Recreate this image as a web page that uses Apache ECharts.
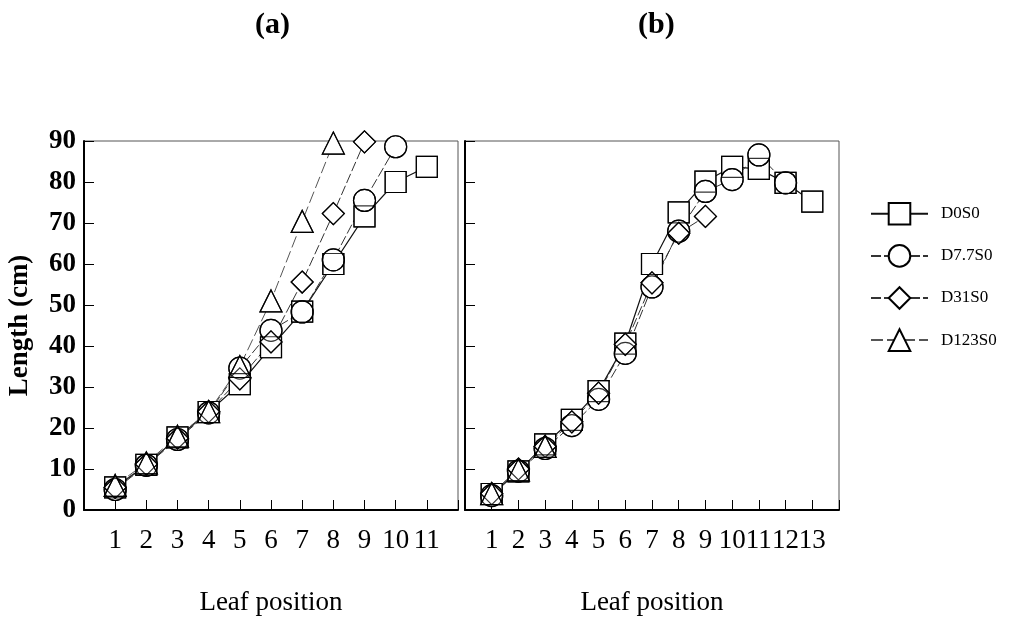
<!DOCTYPE html>
<html>
<head>
<meta charset="utf-8">
<script src="https://cdn.jsdelivr.net/npm/echarts@6/dist/echarts.min.js"></script>
<style>
  html, body { margin: 0; padding: 0; background: #fff; }
  #chart { width: 1019px; height: 621px; }
</style>
</head>
<body>
<div id="chart"></div>
<script>
// Leaf positions for each panel
const leafA = [1, 2, 3, 4, 5, 6, 7, 8, 9, 10, 11];
const leafB = [1, 2, 3, 4, 5, 6, 7, 8, 9, 10, 11, 12, 13];

// Leaf length (cm), panel (a)
const a_D0S0   = [5.5, 11, 17.7, 23.9, 30.7, 39.7, 48.4, 60, 71.6, 80, 83.7];
const a_D7_7S0 = [5, 10.9, 17.2, 23.7, 34.6, 43.8, 48.3, 61, 75.5, 88.6];
const a_D31S0  = [5.5, 11.2, 17.5, 24, 32, 41, 55.6, 72.3, 89.8];
const a_D123S0 = [6, 11.5, 18, 24, 35, 51, 70.4, 89.5];

// Leaf length (cm), panel (b)
const b_D0S0   = [3.9, 9.4, 16, 22, 29, 40.6, 60, 72.6, 80.1, 83.7, 83.2, 79.8, 75.2];
const b_D7_7S0 = [3.5, 9.5, 15, 20.6, 27, 38.2, 54.4, 68, 77.7, 80.6, 86.6, 79.8];
const b_D31S0  = [4, 10, 15.5, 21.5, 28.5, 40.4, 55.4, 67.5, 71.6];
const b_D123S0 = [4, 9.8, 15.5];

const seriesNames = ['D0S0', 'D7.7S0', 'D31S0', 'D123S0'];
const yTicks = [0, 10, 20, 30, 40, 50, 60, 70, 80, 90];

const FONT = '"Liberation Serif", "Times New Roman", serif';

const styles = {
  'D0S0':   { symbol: 'rect',     size: 21, line: { color: '#111', width: 1.2, type: 'solid' } },
  'D7.7S0': { symbol: 'circle',   size: 22, line: { color: '#333', width: 1, type: [10, 3] } },
  'D31S0':  { symbol: 'diamond',  size: 22, line: { color: '#333', width: 1, type: [10, 3] } },
  'D123S0': { symbol: 'triangle', size: 22, line: { color: '#555', width: 1, type: [12, 4] } }
};

function pairs(xs, ys) {
  return ys.map((v, i) => [xs[i], v]);
}

const panels = [
  { leaf: leafA, values: [a_D0S0, a_D7_7S0, a_D31S0, a_D123S0] },
  { leaf: leafB, values: [b_D0S0, b_D7_7S0, b_D31S0, b_D123S0] }
];

const series = [];
panels.forEach((p, gi) => {
  // connecting lines with white-filled markers (hide the lines under markers)
  seriesNames.forEach((name, si) => {
    const st = styles[name];
    series.push({
      name: name,
      type: 'line',
      xAxisIndex: gi, yAxisIndex: gi,
      data: pairs(p.leaf, p.values[si]),
      symbol: st.symbol,
      symbolSize: st.size,
      showAllSymbol: true,
      clip: false,
      lineStyle: st.line,
      itemStyle: { color: '#fff', borderColor: '#000', borderWidth: 1.2 },
      emphasis: { disabled: true },
      z: 2
    });
  });
  // open marker outlines on top, so overlapping markers stay visible
  seriesNames.forEach((name, si) => {
    const st = styles[name];
    series.push({
      name: name,
      type: 'scatter',
      xAxisIndex: gi, yAxisIndex: gi,
      data: pairs(p.leaf, p.values[si]),
      symbol: st.symbol,
      symbolSize: st.size,
      clip: false,
      itemStyle: { color: 'rgba(0,0,0,0)', borderColor: '#000', borderWidth: 1.2 },
      emphasis: { disabled: true },
      z: 3
    });
  });
});

function xAxisFor(gi, maxV, lastLabel) {
  return {
    type: 'value', gridIndex: gi, min: 0, max: maxV, interval: 1,
    name: 'Leaf position', nameLocation: 'middle', nameGap: 79,
    nameTextStyle: { fontFamily: FONT, fontSize: 27, color: '#000' },
    axisLine: { show: true, lineStyle: { color: '#000', width: 2 } },
    axisTick: { show: true, inside: true, length: 10, lineStyle: { color: '#000', width: 1 } },
    axisLabel: {
      fontFamily: FONT, fontSize: 27, color: '#000', margin: 17,
      formatter: v => (v >= 1 && v <= lastLabel) ? String(v) : ''
    },
    splitLine: { show: false }
  };
}

function yAxisFor(gi, withLabels) {
  return {
    type: 'value', gridIndex: gi, min: 0, max: 90, interval: 10,
    name: withLabels ? 'Length (cm)' : '',
    nameLocation: 'middle', nameGap: 50,
    nameTextStyle: { fontFamily: FONT, fontSize: 27, fontWeight: 'bold', color: '#000' },
    axisLine: { show: true, lineStyle: { color: '#000', width: 2 } },
    axisTick: { show: true, inside: true, length: 10, lineStyle: { color: '#000', width: 1 } },
    axisLabel: {
      show: withLabels, fontFamily: FONT, fontSize: 27, fontWeight: 'bold', color: '#000', margin: 8,
      formatter: v => (yTicks.indexOf(v) >= 0 ? String(v) : '')
    },
    splitLine: { show: false }
  };
}

const chart = echarts.init(document.getElementById('chart'), null, { renderer: 'canvas' });
chart.setOption({
  backgroundColor: '#fff',
  animation: false,
  title: [
    { text: '(a)', left: 250, top: 5, textStyle: { fontFamily: FONT, fontSize: 30, fontWeight: 'bold', color: '#000' } },
    { text: '(b)', left: 633, top: 5, textStyle: { fontFamily: FONT, fontSize: 30, fontWeight: 'bold', color: '#000' } }
  ],
  legend: {
    data: seriesNames,
    orient: 'vertical',
    left: 865, top: 197,
    itemWidth: 57, itemHeight: 27, itemGap: 18.5,
    textStyle: { fontFamily: FONT, fontSize: 17, color: '#000', padding: [0, 0, 0, 8] },
    selectedMode: false
  },
  grid: [
    { left: 84, top: 141, width: 374, height: 372, show: true, borderColor: '#555', borderWidth: 1, containLabel: false },
    { left: 465, top: 141, width: 374, height: 372, show: true, borderColor: '#555', borderWidth: 1, containLabel: false }
  ],
  xAxis: [xAxisFor(0, 12, 11), xAxisFor(1, 14, 13)],
  yAxis: [yAxisFor(0, true), yAxisFor(1, false)],
  series: series
});
</script>
</body>
</html>
